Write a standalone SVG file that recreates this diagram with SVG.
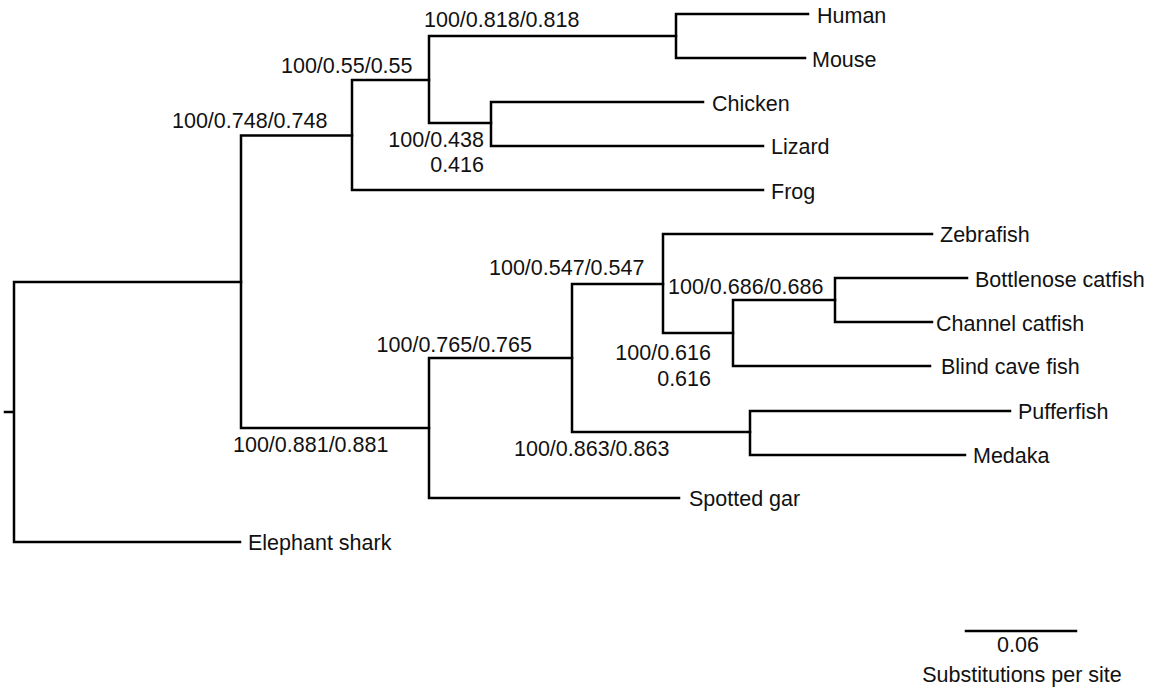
<svg xmlns="http://www.w3.org/2000/svg" width="1154" height="694" viewBox="0 0 1154 694">
<style>
.e{fill:none;stroke:#000;stroke-width:2.5;stroke-linecap:square;stroke-linejoin:miter}
.t{font-family:"Liberation Sans",Arial,sans-serif;font-size:21.5px;fill:#111}
.r{text-anchor:end}
.m{text-anchor:middle}
</style>
<rect width="1154" height="694" fill="#fff"/>
<g id="connectors">
<path class="e" d="M5,412H14M14,282V542M14,282H241M14,542H240"/>
<path class="e" d="M241,135.5V428M241,135.5H352M241,428H429"/>
<path class="e" d="M352,80V190M352,190H763M352,80H429"/>
<path class="e" d="M429,36V123M429,36H676M429,123H491"/>
<path class="e" d="M676,14V58M676,14H808M676,58H805"/>
<path class="e" d="M491,102V146M491,102H703M491,146H763"/>
<path class="e" d="M429,358V498M429,498H679M429,358H572"/>
<path class="e" d="M572,284V432M572,284H663M572,432H750"/>
<path class="e" d="M663,234V333M663,234H932M663,333H733"/>
<path class="e" d="M733,300V366M733,366H930M733,300H835"/>
<path class="e" d="M835,278V322M835,278H967M835,322H932"/>
<path class="e" d="M750,411V455M750,411H1010M750,455H965"/>
</g>
<g id="leaf-human"><text class="t" x="817" y="22.5">Human</text></g>
<g id="leaf-mouse"><text class="t" x="812" y="66.5">Mouse</text></g>
<g id="leaf-chicken"><text class="t" x="712" y="110.5">Chicken</text></g>
<g id="leaf-lizard"><text class="t" x="771" y="154">Lizard</text></g>
<g id="leaf-frog"><text class="t" x="771" y="198.5">Frog</text></g>
<g id="leaf-zebrafish"><text class="t" x="940" y="242">Zebrafish</text></g>
<g id="leaf-bottlenose"><text class="t" x="975" y="286.5">Bottlenose catfish</text></g>
<g id="leaf-channel"><text class="t" x="936" y="330.5">Channel catfish</text></g>
<g id="leaf-blindcave"><text class="t" x="941" y="374">Blind cave fish</text></g>
<g id="leaf-pufferfish"><text class="t" x="1018" y="419">Pufferfish</text></g>
<g id="leaf-medaka"><text class="t" x="973" y="463">Medaka</text></g>
<g id="leaf-spottedgar"><text class="t" x="689" y="506">Spotted gar</text></g>
<g id="leaf-elephantshark"><text class="t" x="248" y="550">Elephant shark</text></g>
<g id="node-tetrapods"><text class="t" x="172" y="128">100/0.748/0.748</text></g>
<g id="node-amniotes"><text class="t" x="281" y="72.5">100/0.55/0.55</text></g>
<g id="node-mammals"><text class="t" x="424" y="26.5">100/0.818/0.818</text></g>
<g id="node-sauropsids"><text class="t r" x="484" y="146.5">100/0.438</text><text class="t r" x="484" y="171.5">0.416</text></g>
<g id="node-osteichthyes"><text class="t" x="233" y="452">100/0.881/0.881</text></g>
<g id="node-actinopterygii"><text class="t r" x="532" y="351.7">100/0.765/0.765</text></g>
<g id="node-teleosts"><text class="t" x="489" y="275">100/0.547/0.547</text></g>
<g id="node-ostariophysi"><text class="t r" x="711" y="360">100/0.616</text><text class="t r" x="711" y="385.7">0.616</text></g>
<g id="node-catfish"><text class="t" x="668" y="294">100/0.686/0.686</text></g>
<g id="node-acanthomorpha"><text class="t" x="514" y="455.7">100/0.863/0.863</text></g>
<g id="scale">
<path class="e" d="M966,631H1076"/>
<text class="t m" x="1018" y="652">0.06</text>
<text class="t m" x="1022" y="682">Substitutions per site</text>
</g>
</svg>
